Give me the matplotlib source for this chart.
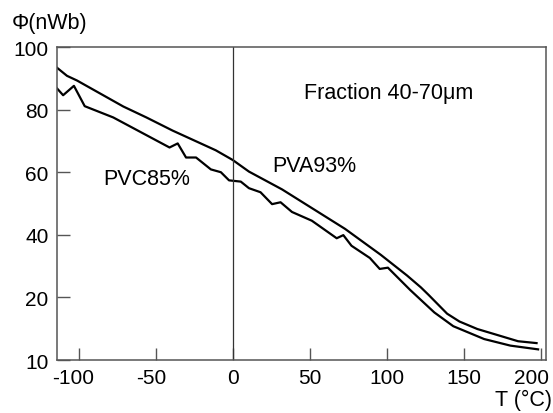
import matplotlib
matplotlib.use("Agg")
import matplotlib.pyplot as plt
from matplotlib.transforms import ScaledTranslation

plt.rcParams["font.family"] = ["Liberation Sans", "DejaVu Sans"]

# PVA93% (upper curve)
pva_t = [-114, -107.5, -101, -71, -56, -39, -11, 0, 10.5, 32, 72.8, 96, 113,
         122, 127, 139, 147, 158.6, 171.5, 185, 197]
pva_phi = [93.4, 90.8, 89.3, 81, 77.5, 73.3, 67, 63.9, 60.2, 54.5, 41.9, 33.6,
           27, 23.2, 20.8, 14.8, 12.3, 9.9, 8, 6, 5.4]

# PVC85% (lower curve)
pvc_t = [-114, -110, -103, -96, -77.5, -41, -35.7, -30.3, -23.8, -14.2, -7.7,
         -2.4, 5.2, 10.5, 18, 25.5, 31, 38.4, 51.3, 67.4, 71.7, 77, 88.9, 95.3,
         100.6, 115, 130.7, 143, 163, 180, 198]
pvc_phi = [86.8, 84.6, 87.6, 81.1, 77.5, 67.9, 69.2, 64.7, 64.7, 60.9, 60,
           57.4, 57, 54.9, 53.6, 49.8, 50.4, 47.3, 44.5, 38.9, 39.9, 36.5, 32.6,
           29.1, 29.5, 22.4, 15.2, 10.8, 6.7, 4.6, 3.4]

x_ticks = [-100, -50, 0, 50, 100, 150, 200]
x_labels = ["-100", "-50", "0", "50", "100", "150", "200"]
y_ticks = [0, 20, 40, 60, 80, 100]
y_labels = ["10", "20", "40", "60", "80", "100"]

fig = plt.figure(figsize=(5.53, 4.14), dpi=100)
ax = fig.add_axes([0.103, 0.128, 0.884, 0.756])

ax.plot(pva_t, pva_phi, color="black", lw=1.6)
ax.plot(pvc_t, pvc_phi, color="black", lw=1.6)
ax.axvline(0, color="#333333", lw=0.9)

ax.set_xlim(-114, 203)
ax.set_ylim(0, 100)
ax.set_xticks(x_ticks)
ax.set_xticklabels(x_labels)
ax.set_yticks(y_ticks)
ax.set_yticklabels(y_labels)
ax.tick_params(direction="in", length=9, width=1, color="#555555",
               labelsize=15, pad=6)

for side in ["left", "bottom", "right", "top"]:
    ax.spines[side].set_color("#555555")
    ax.spines[side].set_linewidth(1.1)

# some x labels sit a little left of their ticks in the original
shifts = {0: -0.05, 1: -0.04, 6: -0.1}
labels = ax.get_xticklabels()
for i, dx in shifts.items():
    lab = labels[i]
    lab.set_transform(lab.get_transform() + ScaledTranslation(dx, 0, fig.dpi_scale_trans))

ax.text(46.5, 83.6, "Fraction 40-70μm", fontsize=15.5, va="baseline")
ax.text(-84, 56.2, "PVC85%", fontsize=15.5, va="baseline")
ax.text(25.5, 60.5, "PVA93%", fontsize=15.5, va="baseline")

fig.text(0.021, 0.93, "Φ(nWb)", fontsize=15.5, va="baseline")
fig.text(0.999, 0.019, "T (°C)", fontsize=15.5, va="baseline", ha="right")

fig.savefig("out.png", dpi=100)
